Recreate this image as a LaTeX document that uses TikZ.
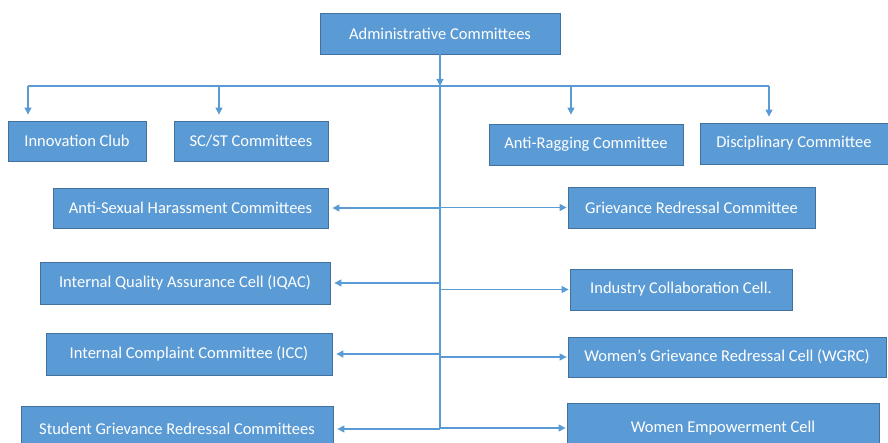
\documentclass[tikz,border=0pt]{standalone}
\usepackage{fontspec}
\setmainfont{Carlito}
\usetikzlibrary{arrows.meta, positioning}

\definecolor{boxblue}{HTML}{5B9BD5}
\definecolor{boxedge}{HTML}{41719C}

\begin{document}
\begin{tikzpicture}[
    x=1pt, y=-1pt,
    cell/.style={draw=boxedge, fill=boxblue, line width=0.8pt, text=white, inner sep=0pt,
                 font=\fontsize{16.5}{19}\selectfont},
    line/.style={draw=boxblue, line width=1.1pt},
    arrow/.style={line, -{Triangle[length=7pt, width=7pt]}}
]
    \useasboundingbox (0,0) rectangle (888,443);
    % top
    \node[cell, minimum width=240pt, minimum height=41pt] (admin) at (440,33.5) {Administrative Committees};
    \coordinate (bus) at (440,86);
    % first row, under the bus
    \node[cell, minimum width=138pt, minimum height=40pt] (innov) at (77,141) {Innovation Club};
    \node[cell, minimum width=154pt, minimum height=40pt] (scst) at (251,141) {SC/ST Committees};
    \node[cell, minimum width=194pt, minimum height=41pt] (antirag) at (586,144.5) {Anti-Ragging Committee};
    \node[cell, minimum width=188pt, minimum height=41pt] (discip) at (794,143.5) {Disciplinary Committee};
    % left column
    \node[cell, minimum width=275pt, minimum height=40pt] (antisex) at (190.5,208) {Anti-Sexual Harassment Committees};
    \node[cell, minimum width=290pt, minimum height=42pt] (iqac) at (185,283) {Internal Quality Assurance Cell (IQAC)};
    \node[cell, minimum width=286pt, minimum height=42pt] (icc) at (189,354) {Internal Complaint Committee (ICC)};
    \node[cell, minimum width=312pt, minimum height=46pt] (student) at (177,429) {Student Grievance Redressal Committees};
    % right column
    \node[cell, minimum width=247pt, minimum height=41pt] (grc) at (691.5,207.5) {Grievance Redressal Committee};
    \node[cell, minimum width=222pt, minimum height=41pt] (industry) at (681,289.5) {Industry Collaboration Cell.};
    \node[cell, minimum width=318pt, minimum height=40pt] (wgrc) at (727,357) {Women’s Grievance Redressal Cell (WGRC)};
    \node[cell, minimum width=312pt, minimum height=50pt] (women) at (723,428) {Women Empowerment Cell};
    % trunk and bus
    \draw[arrow] (admin.south) -- (bus);
    \draw[line] (bus) -- (student.east -| bus);
    \draw[line] (bus -| 28,0) -- (bus -| 769,0);
    \draw[arrow, shorten >=6pt] (bus -| 28,0) -- (innov.north -| 28,0);
    \draw[arrow, shorten >=6pt] (bus -| 219,0) -- (scst.north -| 219,0);
    \draw[arrow, shorten >=9pt] (bus -| 571,0) -- (antirag.north -| 571,0);
    \draw[arrow, shorten >=6pt] (bus -| 769,0) -- (discip.north -| 769,0);
    % side branches
    \foreach \n in {antisex, iqac, icc, student}
        \draw[arrow, shorten >=4pt] (\n.east -| bus) -- (\n.east);
    \foreach \n in {grc, industry, wgrc, women}
        \draw[arrow, shorten >=1pt] (\n.west -| bus) -- (\n.west);
\end{tikzpicture}
\end{document}
